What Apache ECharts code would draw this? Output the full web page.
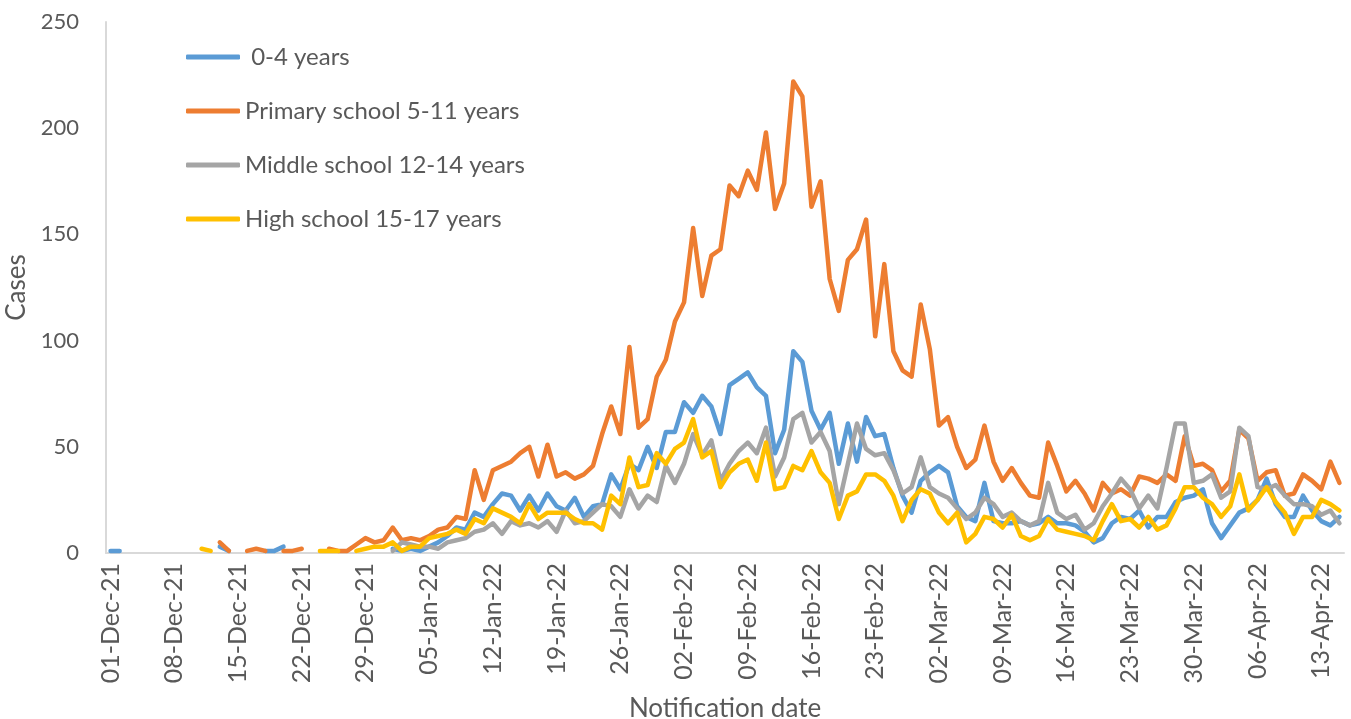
<!DOCTYPE html>
<html>
<head>
<meta charset="utf-8">
<script src="https://cdn.jsdelivr.net/npm/echarts@6/dist/echarts.min.js"></script>
<style>
  html, body { margin: 0; padding: 0; background: #fff; }
  #chart { width: 1351px; height: 719px; }
</style>
</head>
<body>
<div id="chart"></div>
<script>
// daily notifications, 01-Dec-21 .. 15-Apr-22 (null = no cases reported)
var startDate = new Date(2021, 11, 1);
var dayCount = 136;

var seriesNames = [' 0-4 years', 'Primary school 5-11 years', 'Middle school 12-14 years', 'High school 15-17 years'];
var seriesColors = ['#5B9BD5', '#ED7D31', '#A5A5A5', '#FFC000'];

var age0to4 = [
  1, 1, null, null, null, null, null, null, null, null, null, null, 3, 1, null, null, null, 1, 1, 3,
  null, null, null, null, null, null, null, null, null, null, null, 2, 1, 2, 1, 3, 5, 8, 12, 11,
  19, 17, 23, 28, 27, 20, 27, 20, 28, 22, 20, 26, 17, 22, 23, 37, 30, 42, 39, 50,
  40, 57, 57, 71, 66, 74, 69, 56, 79, 82, 85, 78, 74, 47, 58, 95, 90, 67, 58, 66,
  42, 61, 43, 64, 55, 56, 40, 27, 19, 34, 38, 41, 38, 22, 17, 15, 33, 15, 14, 14,
  15, 13, 14, 17, 14, 14, 13, 10, 5, 7, 14, 17, 16, 20, 12, 17, 17, 24, 26, 27,
  30, 14, 7, 13, 19, 21, 25, 35, 23, 17, 17, 27, 20, 15, 13, 17
];
var primary5to11 = [
  null, null, null, null, null, null, null, null, null, null, null, null, 5, 1, null, 1, 2, 1, null, 1,
  1, 2, null, null, 2, 1, 1, 4, 7, 5, 6, 12, 6, 7, 6, 8, 11, 12, 17, 16,
  39, 25, 39, 41, 43, 47, 50, 36, 51, 36, 38, 35, 37, 41, 56, 69, 56, 97, 59, 63,
  83, 91, 109, 118, 153, 121, 140, 143, 173, 168, 180, 171, 198, 162, 174, 222, 215, 163, 175, 129,
  114, 138, 143, 157, 102, 136, 95, 86, 83, 117, 96, 60, 64, 50, 40, 44, 60, 43, 34, 40,
  33, 27, 26, 52, 41, 29, 34, 28, 20, 33, 28, 30, 27, 36, 35, 33, 37, 34, 55, 41,
  42, 39, 29, 34, 58, 54, 34, 38, 39, 27, 28, 37, 34, 30, 43, 33
];
var middle12to14 = [
  null, null, null, null, null, null, null, null, null, null, null, null, null, null, null, null, null, null, null, null,
  null, null, null, null, null, null, null, null, null, null, null, 1, 5, 4, 3, 3, 2, 5, 6, 7,
  10, 11, 14, 9, 15, 13, 14, 12, 15, 10, 20, 14, 15, 19, 23, 22, 17, 30, 21, 27,
  24, 41, 33, 42, 56, 46, 53, 34, 42, 48, 52, 47, 59, 36, 45, 63, 66, 52, 57, 48,
  23, 42, 61, 49, 46, 47, 39, 28, 31, 45, 31, 28, 26, 21, 16, 19, 26, 23, 17, 19,
  15, 13, 15, 33, 19, 16, 18, 11, 14, 22, 28, 35, 30, 21, 27, 21, 40, 61, 61, 33,
  34, 37, 26, 29, 59, 55, 31, 30, 32, 27, 23, 23, 22, 18, 20, 14
];
var high15to17 = [
  null, null, null, null, null, null, null, null, null, null, 2, 1, null, null, null, null, null, null, null, null,
  null, null, null, 1, 1, 1, null, 1, 2, 3, 3, 5, 1, 3, 3, 7, 8, 9, 11, 9,
  16, 14, 21, 19, 17, 14, 23, 16, 19, 19, 19, 16, 14, 14, 11, 27, 23, 45, 31, 32,
  47, 42, 49, 52, 63, 45, 48, 31, 38, 42, 44, 34, 52, 30, 31, 41, 39, 48, 38, 33,
  16, 27, 29, 37, 37, 34, 27, 15, 25, 30, 28, 19, 14, 19, 5, 9, 17, 16, 12, 18,
  8, 6, 8, 16, 11, 10, 9, 8, 6, 15, 23, 15, 16, 12, 17, 11, 13, 21, 31, 31,
  26, 23, 17, 22, 37, 20, 25, 31, 24, 19, 9, 17, 17, 25, 23, 20
];
var yTicks = [0, 50, 100, 150, 200, 250];

var monthNames = ['Jan', 'Feb', 'Mar', 'Apr', 'May', 'Jun', 'Jul', 'Aug', 'Sep', 'Oct', 'Nov', 'Dec'];
var dates = [];
for (var i = 0; i < dayCount; i++) {
  var d = new Date(startDate.getFullYear(), startDate.getMonth(), startDate.getDate() + i);
  var dd = (d.getDate() < 10 ? '0' : '') + d.getDate();
  dates.push(dd + '-' + monthNames[d.getMonth()] + '-' + String(d.getFullYear()).slice(2));
}

var allData = [age0to4, primary5to11, middle12to14, high15to17];
var textColor = '#595959';
var font = 'Lato';

var chart = echarts.init(document.getElementById('chart'));
var option = {
  animation: false,
  grid: { left: 106, right: 7, top: 22, bottom: 166, containLabel: false, outerBoundsMode: 'none' },
  legend: {
    orient: 'vertical',
    left: 186,
    top: 45,
    padding: 0,
    icon: 'roundRect',
    itemWidth: 54,
    itemHeight: 5,
    itemGap: 30,
    textStyle: { color: textColor, fontSize: 24, lineHeight: 24, fontFamily: font },
    data: seriesNames
  },
  xAxis: {
    type: 'category',
    data: dates,
    boundaryGap: true,
    name: 'Notification date',
    nameLocation: 'middle',
    nameGap: 143,
    nameTextStyle: { color: textColor, fontSize: 26, fontFamily: font },
    axisLine: { lineStyle: { color: '#D9D9D9', width: 2 } },
    axisTick: { interval: 6, length: 7, lineStyle: { color: '#D9D9D9', width: 2 } },
    axisLabel: { interval: 6, rotate: 90, margin: 10, color: textColor, fontSize: 25, fontFamily: font }
  },
  yAxis: {
    type: 'value',
    min: yTicks[0],
    max: yTicks[yTicks.length - 1],
    interval: 50,
    name: 'Cases',
    nameLocation: 'middle',
    nameGap: 69,
    nameTextStyle: { color: textColor, fontSize: 26, fontFamily: font },
    splitLine: { show: false },
    axisLine: { show: true, lineStyle: { color: '#D9D9D9', width: 2 } },
    axisTick: { show: false },
    axisLabel: { margin: 27, color: textColor, fontSize: 22, fontFamily: font }
  },
  series: allData.map(function (arr, k) {
    return {
      name: seriesNames[k],
      type: 'line',
      data: arr,
      symbol: 'none',
      connectNulls: false,
      color: seriesColors[k],
      lineStyle: { width: 4.5, color: seriesColors[k], cap: 'round', join: 'round' }
    };
  })
};
chart.setOption(option);
</script>
</body>
</html>
